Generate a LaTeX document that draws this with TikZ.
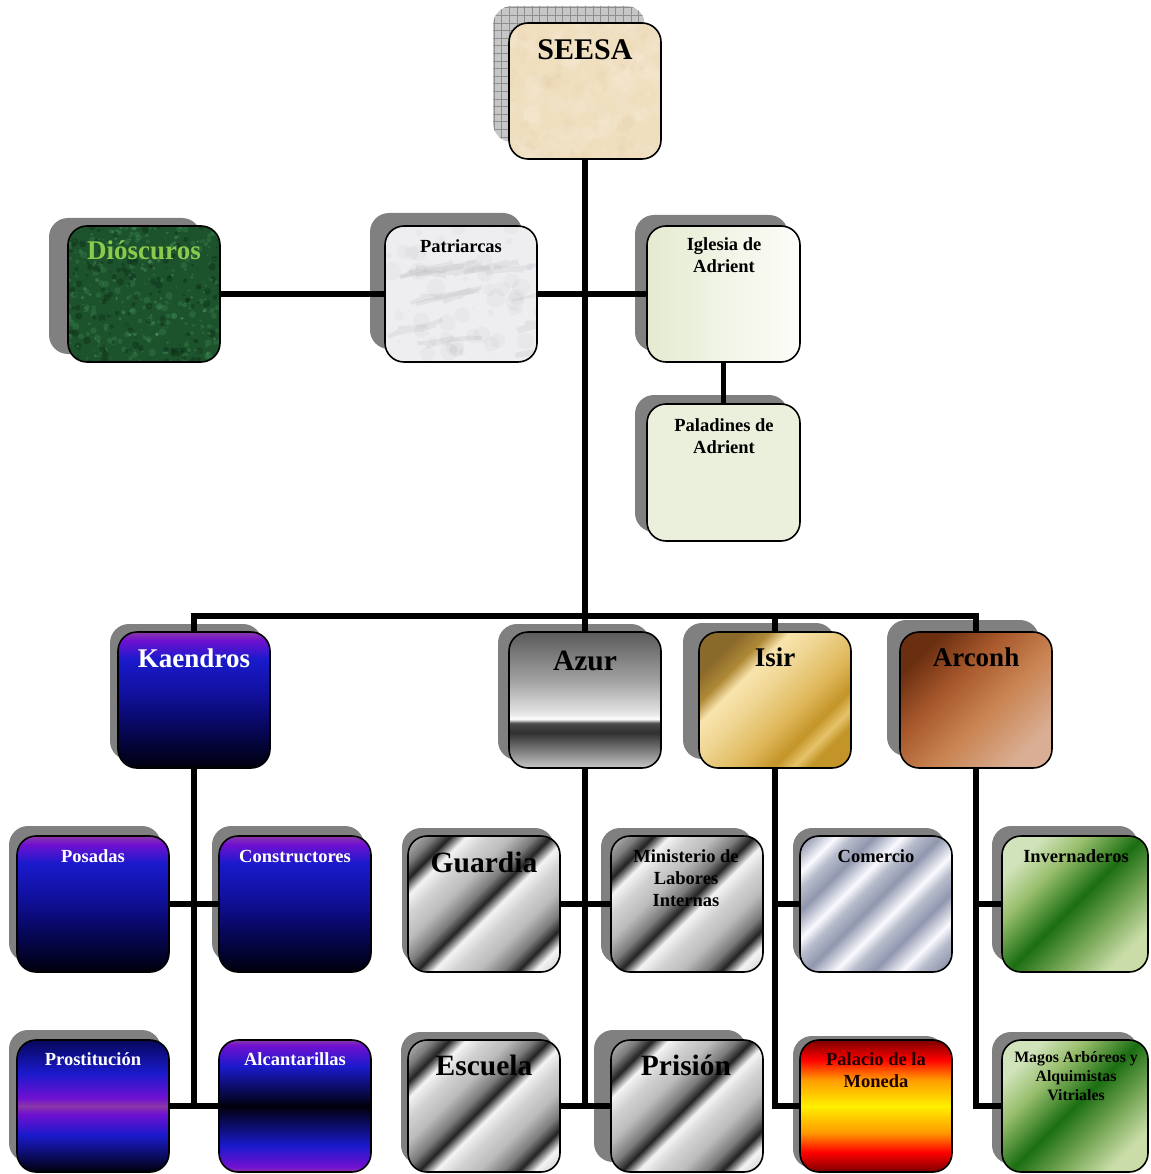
\documentclass[tikz,border=0pt]{standalone}
\usepackage{fontspec}
\setmainfont{Liberation Serif}
\usetikzlibrary{decorations.pathmorphing}

% ---------- colours ----------
\definecolor{shadowgrey}{HTML}{808080}
\definecolor{gridbase}{HTML}{C6C6C6}
\definecolor{gridline}{HTML}{8E8E8E}
\definecolor{parch}{HTML}{F0DFBF}
\definecolor{parchlight}{HTML}{F8EFDC}
\definecolor{parchdark}{HTML}{E0C9A0}
\definecolor{dgreen}{HTML}{1D532C}
\definecolor{dgreenlight}{HTML}{3F8F58}
\definecolor{dgreenpale}{HTML}{7CC090}
\definecolor{dgreendark}{HTML}{0B2E17}
\definecolor{diotext}{HTML}{8ACB4E}
\definecolor{marble}{HTML}{EEEEF0}
\definecolor{marblevein}{HTML}{9A9AA4}
\definecolor{igleft}{HTML}{E4EBD0}
\definecolor{igright}{HTML}{FDFDFA}
\definecolor{palfill}{HTML}{EBF0DC}
\definecolor{kmag}{HTML}{8A38A8}
\definecolor{kpur}{HTML}{7010D0}
\definecolor{kblue}{HTML}{1A1ACC}
\definecolor{knavy}{HTML}{10109C}
\definecolor{kdeep}{HTML}{07075C}
\definecolor{kblack}{HTML}{00000C}
\definecolor{az1}{HTML}{5A5A5A}
\definecolor{az2}{HTML}{A2A2A2}
\definecolor{az3}{HTML}{E6E6E6}
\definecolor{azW}{HTML}{FFFFFF}
\definecolor{az4}{HTML}{4A4A4A}
\definecolor{az5}{HTML}{303030}
\definecolor{az6}{HTML}{C8C8C8}
\definecolor{chD}{HTML}{222222}
\definecolor{chW}{HTML}{F4F4F4}
\definecolor{chL}{HTML}{D2D2D2}
\definecolor{chM}{HTML}{BCBCBC}
\definecolor{chG}{HTML}{7C7C7C}
\definecolor{slD}{HTML}{9096AE}
\definecolor{slL}{HTML}{CDD0DC}
\definecolor{slW}{HTML}{FAFAFF}
\definecolor{slM}{HTML}{B8BDCC}
\definecolor{g1}{HTML}{8A6A2A}
\definecolor{g2}{HTML}{B08A38}
\definecolor{g3}{HTML}{F8E4AC}
\definecolor{g4}{HTML}{F0D694}
\definecolor{g5}{HTML}{DDB658}
\definecolor{g6}{HTML}{C39428}
\definecolor{g7}{HTML}{E6C46A}
\definecolor{c1}{HTML}{6A2E10}
\definecolor{c2}{HTML}{A8582C}
\definecolor{c3}{HTML}{C98452}
\definecolor{c4}{HTML}{DAAE94}
\definecolor{gr1}{HTML}{D0E3BA}
\definecolor{gr2}{HTML}{98BE6C}
\definecolor{gr3}{HTML}{1B6E12}
\definecolor{gr4}{HTML}{72A452}
\definecolor{gr5}{HTML}{CADDA8}
\definecolor{p1}{HTML}{7A0000}
\definecolor{p2}{HTML}{FF0000}
\definecolor{p3}{HTML}{FF9A00}
\definecolor{p4}{HTML}{FFF000}
\definecolor{moneda}{HTML}{200000}

% ---------- shadings ----------
\pgfdeclareverticalshading{kaendros}{100bp}{color(0bp)=(kblack); color(25bp)=(kblack); color(40bp)=(kdeep); color(52bp)=(knavy); color(65bp)=(kblue); color(72bp)=(kpur); color(75bp)=(kmag); color(100bp)=(kmag)}
\pgfdeclareverticalshading{prost}{100bp}{color(0bp)=(kblack); color(25bp)=(kblack); color(39bp)=(kblue); color(47bp)=(kpur); color(50bp)=(kmag); color(53bp)=(kpur); color(62.5bp)=(kblue); color(75bp)=(kdeep); color(100bp)=(kdeep)}
\pgfdeclareverticalshading{alcan}{100bp}{color(0bp)=(kmag); color(25bp)=(kmag); color(27bp)=(kpur); color(35bp)=(kblue); color(50bp)=(kblack); color(65bp)=(kblue); color(73bp)=(kpur); color(75bp)=(kmag); color(100bp)=(kmag)}
\pgfdeclareverticalshading{palacio}{100bp}{color(0bp)=(p1); color(25bp)=(p1); color(32.5bp)=(p2); color(40bp)=(p3); color(50bp)=(p4); color(60bp)=(p3); color(67.5bp)=(p2); color(75bp)=(p1); color(100bp)=(p1)}
\pgfdeclareverticalshading{azur}{100bp}{color(0bp)=(az6); color(25bp)=(az6); color(38bp)=(az5); color(41.5bp)=(az4); color(43bp)=(azW); color(45bp)=(az3); color(57bp)=(az2); color(75bp)=(az1); color(100bp)=(az1)}
\pgfdeclarehorizontalshading{chrome}{100bp}{color(0bp)=(chD); color(4bp)=(chW); color(9bp)=(chL); color(15bp)=(chM); color(21bp)=(chG);
 color(25bp)=(chD); color(29bp)=(chW); color(34bp)=(chL); color(40bp)=(chM); color(46bp)=(chG);
 color(50bp)=(chD); color(54bp)=(chW); color(59bp)=(chL); color(65bp)=(chM); color(71bp)=(chG);
 color(75bp)=(chD); color(79bp)=(chW); color(84bp)=(chL); color(90bp)=(chM); color(96bp)=(chG);
 color(100bp)=(chD)}
\pgfdeclarehorizontalshading{silver}{100bp}{color(0bp)=(slD); color(4bp)=(slL); color(7bp)=(slW); color(11bp)=(slM);
 color(16.5bp)=(slD); color(20.5bp)=(slL); color(23.5bp)=(slW); color(27.5bp)=(slM);
 color(33bp)=(slD); color(37bp)=(slL); color(40bp)=(slW); color(44bp)=(slM);
 color(49.5bp)=(slD); color(53.5bp)=(slL); color(56.5bp)=(slW); color(60.5bp)=(slM);
 color(66bp)=(slD); color(70bp)=(slL); color(73bp)=(slW); color(77bp)=(slM);
 color(82.5bp)=(slD); color(86.5bp)=(slL); color(89.5bp)=(slW); color(93.5bp)=(slM);
 color(100bp)=(slD)}
\pgfdeclarehorizontalshading{gold}{100bp}{color(0bp)=(g1); color(25bp)=(g1); color(32bp)=(g2); color(37bp)=(g3); color(45bp)=(g4); color(58bp)=(g5); color(66bp)=(g6); color(71bp)=(g7); color(75bp)=(g6); color(100bp)=(g6)}
\pgfdeclarehorizontalshading{copper}{100bp}{color(0bp)=(c1); color(25bp)=(c1); color(40bp)=(c2); color(56bp)=(c3); color(75bp)=(c4); color(100bp)=(c4)}
\pgfdeclarehorizontalshading{greens}{100bp}{color(0bp)=(gr1); color(25bp)=(gr1); color(36bp)=(gr2); color(50bp)=(gr3); color(62bp)=(gr4); color(75bp)=(gr5); color(100bp)=(gr5)}

\pgfdeclarelayer{shadows}
\pgfdeclarelayer{links}
\pgfsetlayers{shadows,links,main}

% centred lines of a label; the baseline is that of the first line
\newcommand\stack[1]{\vtop{\halign{\hfil##\hfil\cr#1\crcr}}}
% grey drop shadow: L T R B dx dy
\newcommand\dropshadow[6]{%
  \begin{pgfonlayer}{shadows}
    \fill[shadowgrey, rounded corners=19pt] ({#1-#5},{#2-#6}) rectangle ({#3-#5},{#4-#6});
  \end{pgfonlayer}}
% box: name L T R B style
\newcommand\orgbox[6]{%
  \node[unitbox, #6, minimum width={#4-#2}, minimum height={#5-#3}] (#1) at ({(#2+#4)/2},{(#3+#5)/2}) {};}
% label: name x baseline style text
\newcommand\boxtext[5]{%
  \node[boxlabel, #4, anchor=base] (#1) at (#2,#3) {\stack{#5}};}
% random spots inside a box
\newcommand\speckle[4]{%
  \foreach \k in {1,...,#1}{\fill[#2, opacity=#3] (rand*78,rand*70) circle[radius={0.6pt+#4*rnd}];}}

\begin{document}
\pgfmathsetseed{2718}
\begin{tikzpicture}[x=1pt, y=-1pt,
  unitbox/.style={draw=black, line width=1.6pt, rounded corners=19pt, inner sep=0pt},
  boxlabel/.style={inner sep=0pt, text=black},
  small/.style={font=\bfseries\fontsize{18.5}{22}\selectfont},
  tiny/.style={font=\bfseries\fontsize{15.8}{19}\selectfont},
  big/.style={font=\bfseries\fontsize{27}{30}\selectfont},
  huge/.style={font=\bfseries\fontsize{29.5}{32}\selectfont},
  titlefont/.style={font=\bfseries\fontsize{30}{33}\selectfont},
  link/.style={line width=5.5pt, draw=black},
  parchment/.style={fill=parch, path picture={\begin{scope}[shift={(path picture bounding box.center)}]
      \speckle{140}{parchlight}{0.18}{10pt}\speckle{120}{parchdark}{0.1}{7pt}\end{scope}}},
  forest/.style={fill=dgreen, path picture={\begin{scope}[shift={(path picture bounding box.center)}]
      \speckle{260}{dgreenlight}{0.3}{3pt}\speckle{160}{dgreendark}{0.45}{3.5pt}\speckle{120}{dgreenpale}{0.25}{1.4pt}\end{scope}}},
  marblefill/.style={fill=marble, path picture={\begin{scope}[shift={(path picture bounding box.center)}]
      \speckle{60}{marblevein}{0.07}{9pt}
      \foreach \k in {1,...,14}{\draw[marblevein, opacity=0.14, line width={2pt+4pt*rnd}, line cap=round,
        decorate, decoration={random steps, segment length=9pt, amplitude=2pt}]
        (rand*80,rand*72) -- ++({35+40*rnd},{-4-10*rnd});}
      \end{scope}}},
  diag/.style={shading=#1, shading angle=-45},
]
\useasboundingbox (0,0) rectangle (1150,1174);
\begin{pgfonlayer}{shadows}
  \fill[white] (0,0) rectangle (1150,1174);
  % chequered shadow of the top box
  \begin{scope}
    \clip[rounded corners=19pt] (493,6) rectangle (645,142);
    \fill[gridbase] (493,6) rectangle (645,142);
    \draw[gridline, line width=0.5pt, step=7.6pt] (490,3) grid (648,145);
  \end{scope}
\end{pgfonlayer}

% ---------- top ----------
\orgbox{seesa}{509}{23}{661}{159}{parchment}
\boxtext{seesa-t}{585}{60}{titlefont}{SEESA}

\dropshadow{68}{226}{220}{362}{19}{8}
\orgbox{dioscuros}{68}{226}{220}{362}{forest}
\boxtext{dioscuros-t}{144}{259}{big, text=diotext}{Dióscuros}

\dropshadow{385}{226}{537}{362}{15}{13}
\orgbox{patriarcas}{385}{226}{537}{362}{marblefill}
\boxtext{patriarcas-t}{461}{252}{small}{Patriarcas}

\dropshadow{647}{226}{800}{362}{12}{11}
\orgbox{iglesia}{647}{226}{800}{362}{left color=igleft, right color=igright}
\boxtext{iglesia-t}{724}{251}{small}{Iglesia de\cr Adrient}

\dropshadow{647}{404}{800}{541}{12}{9}
\orgbox{paladines}{647}{404}{800}{541}{fill=palfill}
\boxtext{paladines-t}{724}{431}{small}{Paladines de\cr Adrient}

% ---------- second level ----------
\dropshadow{118}{632}{270}{768}{8}{8}
\orgbox{kaendros}{118}{632}{270}{768}{shading=kaendros}
\boxtext{kaendros-t}{194}{667}{big, text=white}{Kaendros}

\dropshadow{509}{632}{661}{768}{11}{8}
\orgbox{azur}{509}{632}{661}{768}{shading=azur}
\boxtext{azur-t}{585}{670}{huge}{Azur}

\dropshadow{699}{632}{851}{768}{16}{9}
\orgbox{isir}{699}{632}{851}{768}{diag=gold}
\boxtext{isir-t}{775}{666}{big}{Isir}

\dropshadow{900}{632}{1052}{768}{13}{12}
\orgbox{arconh}{900}{632}{1052}{768}{diag=copper}
\boxtext{arconh-t}{976}{666}{big}{Arconh}

% ---------- third level ----------
\dropshadow{17}{836}{169}{972}{8}{10}
\orgbox{posadas}{17}{836}{169}{972}{shading=kaendros}
\boxtext{posadas-t}{93}{862}{small, text=white}{Posadas}

\dropshadow{219}{836}{371}{972}{7}{10}
\orgbox{constructores}{219}{836}{371}{972}{shading=kaendros}
\boxtext{constructores-t}{295}{862}{small, text=white}{Constructores}

\dropshadow{408}{836}{560}{972}{6}{8}
\orgbox{guardia}{408}{836}{560}{972}{diag=chrome}
\boxtext{guardia-t}{484}{872}{huge}{Guardia}

\dropshadow{611}{836}{763}{972}{10}{8}
\orgbox{ministerio}{611}{836}{763}{972}{diag=chrome}
\boxtext{ministerio-t}{686}{862}{small}{Ministerio de\cr Labores\cr Internas}

\dropshadow{800}{836}{952}{972}{7}{8}
\orgbox{comercio}{800}{836}{952}{972}{diag=silver}
\boxtext{comercio-t}{876}{862}{small}{Comercio}

\dropshadow{1002}{836}{1148}{972}{10}{10}
\orgbox{invernaderos}{1002}{836}{1148}{972}{diag=greens}
\boxtext{invernaderos-t}{1076}{862}{small}{Invernaderos}

% ---------- fourth level ----------
\dropshadow{17}{1040}{169}{1172}{8}{10}
\orgbox{prostitucion}{17}{1040}{169}{1172}{shading=prost}
\boxtext{prostitucion-t}{93}{1065}{small, text=white}{Prostitución}

\orgbox{alcantarillas}{219}{1040}{371}{1172}{shading=alcan}
\boxtext{alcantarillas-t}{295}{1065}{small, text=white}{Alcantarillas}

\dropshadow{408}{1040}{560}{1172}{7}{8}
\orgbox{escuela}{408}{1040}{560}{1172}{diag=chrome}
\boxtext{escuela-t}{484}{1075}{huge}{Escuela}

\dropshadow{611}{1040}{763}{1172}{17}{10}
\orgbox{prision}{611}{1040}{763}{1172}{diag=chrome}
\boxtext{prision-t}{686}{1075}{huge}{Prisión}

\dropshadow{800}{1040}{952}{1172}{7}{4}
\orgbox{palacio}{800}{1040}{952}{1172}{shading=palacio}
\boxtext{palacio-t}{876}{1065}{small, text=moneda}{Palacio de la\cr Moneda}

\dropshadow{1002}{1040}{1148}{1172}{10}{8}
\orgbox{magos}{1002}{1040}{1148}{1172}{diag=greens}
\boxtext{magos-t}{1076}{1062}{tiny}{Magos Arbóreos y\cr Alquimistas\cr Vitriales}

% ---------- connectors ----------
\begin{pgfonlayer}{links}
  \coordinate (bus) at (585,616);
  \draw[link] (seesa.south) -- (azur.north);
  \draw[link] (dioscuros.east) -- (patriarcas.west);
  \draw[link] (patriarcas.east) -- (iglesia.west);
  \draw[link] (iglesia.south) -- (paladines.north);
  \draw[link] (kaendros.north) |- (bus) -| (arconh.north);
  \draw[link] (isir.north) -- (isir.north |- bus);
  % Kaendros branch
  \draw[link] (kaendros.south) -- (kaendros.south |- prostitucion.east);
  \draw[link] (posadas.east) -- (constructores.west);
  \draw[link] (prostitucion.east) -- (alcantarillas.west);
  % Azur branch
  \draw[link] (azur.south) -- (azur.south |- escuela.east);
  \draw[link] (guardia.east) -- (ministerio.west);
  \draw[link] (escuela.east) -- (prision.west);
  % Isir branch
  \draw[link] (isir.south) |- (palacio.west);
  \draw[link] (isir.south |- comercio.west) -- (comercio.west);
  % Arconh branch
  \draw[link] (arconh.south) |- (magos.west);
  \draw[link] (arconh.south |- invernaderos.west) -- (invernaderos.west);
\end{pgfonlayer}
\end{tikzpicture}
\end{document}
